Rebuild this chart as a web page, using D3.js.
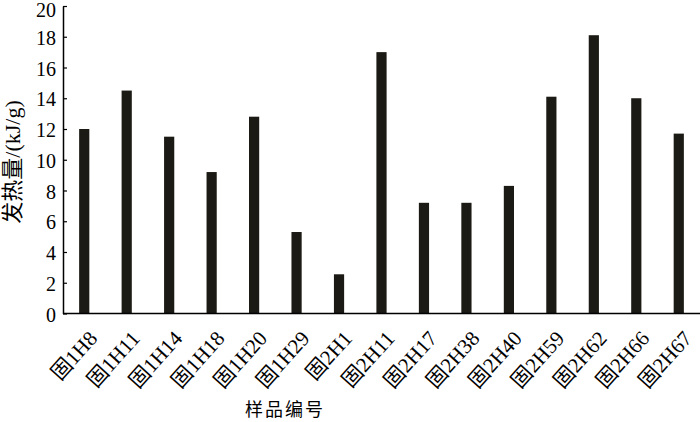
<!DOCTYPE html>
<html>
<head>
<meta charset="utf-8">
<script src="https://cdn.jsdelivr.net/npm/d3@7"></script>
<style>
body{margin:0;background:#fff;}
</style>
</head>
<body>
<svg id="chart"></svg>
<script>
// 样品编号
var samples=["固1H8","固1H11","固1H14","固1H18","固1H20","固1H29","固2H1","固2H11","固2H17","固2H38","固2H40","固2H59","固2H62","固2H66","固2H67"];
// 发热量 kJ/g
var heat=[12.0,14.5,11.5,9.2,12.8,5.3,2.55,17.0,7.2,7.2,8.3,14.1,18.1,14.0,11.7];
var yTicks=[0,2,4,6,8,10,12,14,16,18,20];

var W=700,H=422;
var mLeft=63,mRight=700,mTop=6,mBottom=313.5;

var svg=d3.select("#chart").attr("width",W).attr("height",H);

var x=d3.scaleBand()
	.domain(samples)
	.range([mLeft,mRight])
	.paddingInner(0.76)
	.paddingOuter(0.38);

var y=d3.scaleLinear()
	.domain([0,20])
	.range([mBottom,mTop]);

// bars
svg.append("g")
	.selectAll("rect")
	.data(heat)
	.enter()
	.append("rect")
	.attr("x",function(d,i){return x(samples[i]);})
	.attr("y",function(d){return y(d);})
	.attr("width",x.bandwidth())
	.attr("height",function(d){return y(0)-y(d);})
	.attr("fill","#1c1a14");

// y axis, ticks inside
var yAxis=svg.append("g")
	.attr("transform","translate("+mLeft+",0)")
	.call(d3.axisRight(y).tickValues(yTicks).tickSize(4).tickSizeOuter(0).tickFormat(d3.format("d")));
yAxis.select(".domain").attr("stroke","#000").attr("stroke-width",1.5);
yAxis.selectAll(".tick line").attr("stroke","#000").attr("stroke-width",1.2);
yAxis.selectAll(".tick text")
	.attr("x",-7)
	.attr("text-anchor","end")
	.attr("dy",function(d){return d==20?"0.5em":"0.38em";})
	.style("font-family","'Liberation Serif','Times New Roman',serif")
	.style("font-size","20px")
	.attr("fill","#000");

// x axis line
svg.append("line")
	.attr("x1",mLeft).attr("x2",mRight)
	.attr("y1",y(0)).attr("y2",y(0))
	.attr("stroke","#000").attr("stroke-width",1.5);

// x labels rotated
svg.append("g")
	.selectAll("text")
	.data(samples)
	.enter()
	.append("text")
	.attr("transform",function(d){
		var cx=x(d)+x.bandwidth()/2+3;
		return "translate("+cx+",329) rotate(-48)";
	})
	.attr("text-anchor","end")
	.attr("dy","0.72em")
	.style("font-family","'Liberation Serif','Noto Sans CJK SC',serif")
	.style("font-size","21px")
	.attr("fill","#000")
	.text(function(d){return d;});

// titles
svg.append("text")
	.attr("transform","translate(20,162) rotate(-90)")
	.attr("text-anchor","middle")
	.style("font-family","'Liberation Serif','Noto Sans CJK SC',serif")
	.style("font-size","22px")
	.attr("fill","#000")
	.text("发热量/(kJ/g)");

svg.append("text")
	.attr("x",285)
	.attr("y",416)
	.attr("text-anchor","middle")
	.style("font-family","'Noto Sans CJK SC',sans-serif")
	.style("font-size","18px")
	.style("letter-spacing","2px")
	.attr("fill","#000")
	.text("样品编号");
</script>
</body>
</html>
